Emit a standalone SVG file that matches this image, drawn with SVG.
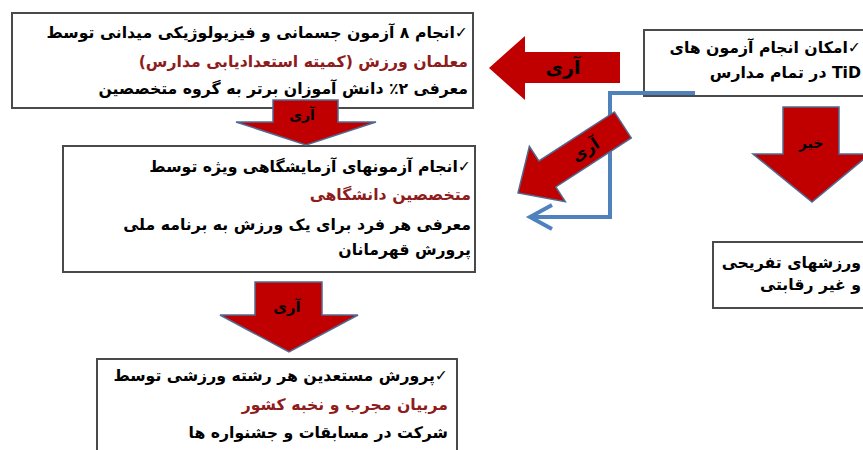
<svg xmlns="http://www.w3.org/2000/svg" width="863" height="450" viewBox="0 0 863 450">
<defs>
<style>
.box{fill:#fff;stroke:#4a4a4a;stroke-width:2}
.t{font-family:"DejaVu Sans",sans-serif;font-weight:bold;font-size:15.7px;fill:#000}
.r{fill:#8e1c1c}
.arr{fill:#c00000;stroke:#4f6b94;stroke-width:1.5;stroke-linejoin:miter}
.lbl{font-family:"DejaVu Sans",sans-serif;font-weight:bold;fill:#000;text-anchor:middle}
.conn{fill:none;stroke:#4f81bd;stroke-width:4}
</style>
</defs>
<rect width="863" height="450" fill="#fff"/>

<g id="node-field-tests">
<rect class="box" x="12" y="13" width="461" height="95"/>
<text class="t" x="468" y="38" direction="rtl" text-anchor="start">✓انجام ۸ آزمون جسمانی و فیزیولوژیکی میدانی توسط</text>
<text class="t r" x="468" y="67" direction="rtl" text-anchor="start">معلمان ورزش (کمیته استعدادیابی مدارس)</text>
<text class="t" x="468" y="94" direction="rtl" text-anchor="start">معرفی ۲٪ دانش آموزان برتر به گروه متخصصین</text>
</g>

<g id="node-tid">
<rect class="box" x="644" y="30" width="230" height="66"/>
<text class="t" x="861" y="53" direction="rtl" text-anchor="start">✓امکان انجام آزمون های</text>
<text class="t" x="861" y="78" direction="rtl" text-anchor="start">TiD در تمام مدارس</text>
</g>

<g id="node-recreational">
<rect class="box" x="713" y="242" width="160" height="66"/>
<text class="t" x="861" y="268" direction="rtl" text-anchor="start">ورزشهای تفریحی</text>
<text class="t" x="861" y="290" direction="rtl" text-anchor="start">و غیر رقابتی</text>
</g>

<g id="node-lab-tests">
<rect class="box" x="63" y="146" width="412" height="126"/>
<text class="t" x="471" y="172" direction="rtl" text-anchor="start">✓انجام آزمونهای آزمایشگاهی ویژه توسط</text>
<text class="t r" x="471" y="200" direction="rtl" text-anchor="start">متخصصین دانشگاهی</text>
<text class="t" x="471" y="230" direction="rtl" text-anchor="start">معرفی هر فرد برای یک ورزش به برنامه ملی</text>
<text class="t" x="471" y="255" direction="rtl" text-anchor="start">پرورش قهرمانان</text>
</g>

<g id="node-training">
<rect class="box" x="97" y="359" width="360" height="100"/>
<text class="t" x="448" y="381" direction="rtl" text-anchor="start">✓پرورش مستعدین هر رشته ورزشی توسط</text>
<text class="t r" x="448" y="410" direction="rtl" text-anchor="start">مربیان مجرب و نخبه کشور</text>
<text class="t" x="448" y="438" direction="rtl" text-anchor="start">شرکت در مسابقات و جشنواره ها</text>
</g>

<g id="connectors">
<polyline class="conn" points="695,93 610,93 610,217 530,217"/>
<polyline class="conn" points="552,205 530,217 552,229"/>
<g id="arrow-yes-left">
<polygon points="489,68 525,36 525,52 620,52 620,83 525,83 525,100" fill="#c00000"/>
<text class="lbl" x="563" y="74" font-size="19">آری</text>
</g>
<g id="arrow-yes-diag" transform="translate(518,193) rotate(-33)">
<polygon class="arr" points="0,0 35,-33 35,-15.5 125,-15.5 125,15.5 35,15.5 35,33"/>
<text class="lbl" x="80" y="6" font-size="16">آری</text>
</g>
<g id="arrow-yes-down1">
<polygon class="arr" points="273,100 338,100 338,122 376,122 306,145 236,122 273,122"/>
<text class="lbl" x="302" y="120" font-size="14">آری</text>
</g>
<g id="arrow-yes-down2">
<polygon class="arr" points="255,282 322,282 322,315 358,315 289,352 220,315 255,315"/>
<text class="lbl" x="287" y="312" font-size="15">آری</text>
</g>
<g id="arrow-no">
<polygon class="arr" points="783,107 839,107 839,154 870,154 812,202 753,154 783,154"/>
<text class="lbl" x="811" y="148" font-size="14">خیر</text>
</g>
</g>
</svg>
